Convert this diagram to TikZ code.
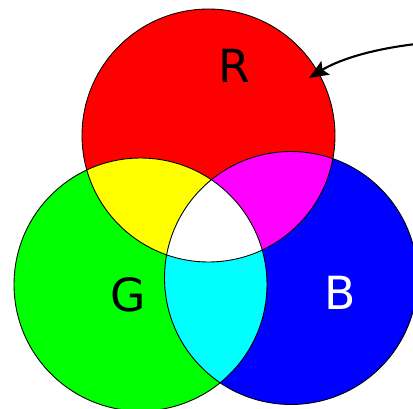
\documentclass[tikz,border=0pt]{standalone}
\usepackage{fontspec}
\setmainfont{DejaVu Sans}
\usetikzlibrary{arrows.meta}

\definecolor{pureR}{RGB}{255,0,0}
\definecolor{pureG}{RGB}{0,255,0}
\definecolor{pureB}{RGB}{0,0,255}
\definecolor{pureY}{RGB}{255,255,0}
\definecolor{pureM}{RGB}{255,0,255}
\definecolor{pureC}{RGB}{0,255,255}

\tikzset{
  rim/.style={draw=black, line width=0.5pt},
  letter/.style={inner sep=0pt, font=\fontsize{26}{26}\selectfont},
  pointer/.style={line width=1.2pt, -{Stealth[length=11pt,width=9pt,inset=2pt]}},
}
\def\rad{2.53cm}

\begin{document}
\begin{tikzpicture}[x=0.02cm,y=-0.02cm]
\useasboundingbox (0,0) rectangle (413,409);
\coordinate (cR) at (208.5,135.5);
\coordinate (cG) at (140.5,284.5);
\coordinate (cB) at (291,278);

% primary discs
\fill[pureR] (cR) circle (\rad);
\fill[pureG] (cG) circle (\rad);
\fill[pureB] (cB) circle (\rad);

% overlaps
\begin{scope}
  \clip (cR) circle (\rad);
  \fill[pureY] (cG) circle (\rad);
  \fill[pureM] (cB) circle (\rad);
\end{scope}
\begin{scope}
  \clip (cG) circle (\rad);
  \fill[pureC] (cB) circle (\rad);
  \clip (cR) circle (\rad);
  \fill[white] (cB) circle (\rad);
\end{scope}

% outlines
\draw[rim] (cR) circle (\rad);
\draw[rim] (cG) circle (\rad);
\draw[rim] (cB) circle (\rad);

% labels
\node[letter] (labR) at (234,66) {R};
\node[letter] (labG) at (128,295) {G};
\node[letter, text=white] (labB) at (340,293) {B};

% arrow
\coordinate (tail) at (416,44);
\coordinate (tip) at (309,78);
\draw[pointer] (tail) .. controls (365,50) and (335,62) .. (tip);
\end{tikzpicture}
\end{document}
